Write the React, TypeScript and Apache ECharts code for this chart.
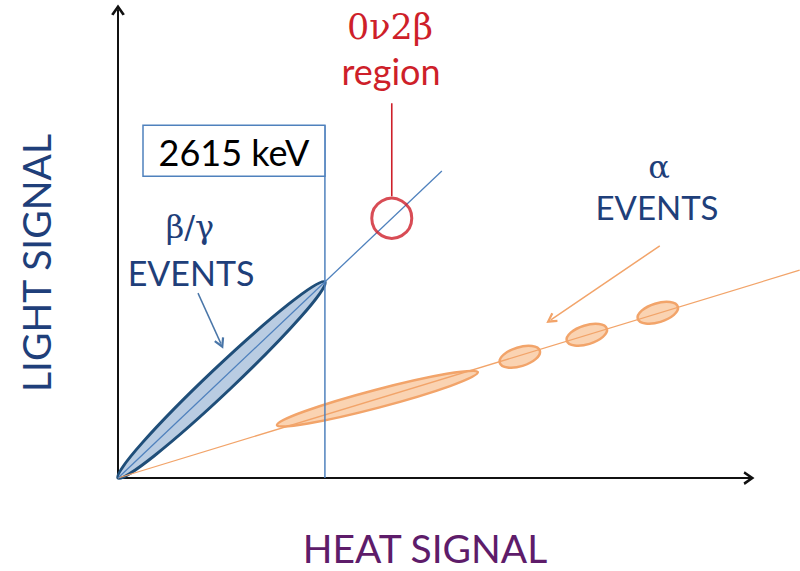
import React, { useEffect, useRef } from "react";
import * as echarts from "echarts";

// ---- data (heat axis in keV, light axis in arbitrary units) ----
const X_MAX = 8000;
const Y_MAX = 100;
const CUTOFF_KEV = 2615;
const betaLine = [[0, 0], [4093, 65.6]];
const alphaLine = [[0, 0, 8615, 44.4]];
const betaBand = [[0, 0, 2615, 41.9]];
const alphaBands = [
  [2009, 11.3, 4548, 22.6],
  [4825, 24.6, 5331, 27.2],
  [5672, 29.3, 6178, 31.9],
  [6569, 34.0, 7075, 36.6],
];
const cutoffLine = [[CUTOFF_KEV, 0], [CUTOFF_KEV, 75.4]];
const cutoffBox = [[316, 64.5, CUTOFF_KEV, 75.4]];
const roiCenter = [[3460, 55.5]];
const roiPointer = [[3460, 60.2], [3460, 80.1]];
const betaArrow = [[1011, 39.5], [1301, 28.7]];
const alphaArrow = [[6847, 49.6], [5470, 33.8]];

const CHEVRON = "path://M0,10 L7,0 L14,10 L11.6,11.2 L7,4.6 L2.4,11.2 Z";
const BLUE = "#4F81BD";
const NAVY = "#1F4E79";
const ORANGE = "#F2A46A";
const RED = "#CE1F2A";
const TEXT_BLUE = "#1F3F7A";
const SANS = "Lato, 'Noto Sans', sans-serif";
const SERIF = "'DejaVu Serif', serif";

function ellipseRender(ry: number, fill: string, stroke: string, lw: number) {
  return (params: any, api: any) => {
    const p1 = api.coord([api.value(0), api.value(1)]);
    const p2 = api.coord([api.value(2), api.value(3)]);
    const dx = p2[0] - p1[0];
    const dy = p2[1] - p1[1];
    return {
      type: "ellipse",
      x: (p1[0] + p2[0]) / 2,
      y: (p1[1] + p2[1]) / 2,
      rotation: -Math.atan2(dy, dx),
      shape: { cx: 0, cy: 0, rx: Math.hypot(dx, dy) / 2, ry },
      style: { fill, stroke, lineWidth: lw },
    };
  };
}

function txt(text: string, x: number, y: number, size: number, color: string, family: string, rotation = 0) {
  return {
    type: "text",
    x,
    y,
    rotation,
    z: 20,
    style: {
      text,
      fill: color,
      fontSize: size,
      fontFamily: family,
      align: "center",
      verticalAlign: "middle",
      textAlign: "center",
      textVerticalAlign: "middle",
    },
  };
}

export default function App() {
  const ref = useRef<HTMLDivElement>(null);
  useEffect(() => {
    if (!ref.current) return;
    const chart = echarts.init(ref.current, null, { renderer: "svg" });
    chart.setOption({
      animation: false,
      backgroundColor: "#ffffff",
      grid: { left: 118, right: 49, top: 10, bottom: 93 },
      xAxis: {
        type: "value",
        min: 0,
        max: X_MAX,
        axisLine: {
          show: true,
          symbol: ["none", CHEVRON],
          symbolSize: [14, 11],
          symbolOffset: [0, -2],
          lineStyle: { color: "#111", width: 2 },
        },
        axisTick: { show: false },
        axisLabel: { show: false },
        splitLine: { show: false },
      },
      yAxis: {
        type: "value",
        min: 0,
        max: Y_MAX,
        axisLine: {
          show: true,
          symbol: ["none", CHEVRON],
          symbolSize: [14, 11],
          symbolOffset: [0, 0],
          lineStyle: { color: "#111", width: 2 },
        },
        axisTick: { show: false },
        axisLabel: { show: false },
        splitLine: { show: false },
      },
      series: [
        {
          type: "custom",
          name: "β/γ events",
          dimensions: ["x1", "y1", "x2", "y2"],
          encode: { x: [0, 2], y: [1, 3] },
          data: betaBand,
          z: 2,
          renderItem: ellipseRender(12.5, "#B9CCE2", NAVY, 3),
        },
        {
          type: "custom",
          name: "α events",
          dimensions: ["x1", "y1", "x2", "y2"],
          encode: { x: [0, 2], y: [1, 3] },
          data: alphaBands,
          z: 2,
          renderItem: (params: any, api: any) =>
            ellipseRender(params.dataIndex === 0 ? 9 : 9.5, "#FAD3B2", ORANGE, 2.5)(params, api),
        },
        {
          type: "line",
          name: "β/γ line",
          data: betaLine,
          symbol: "none",
          z: 3,
          lineStyle: { color: BLUE, width: 1.3 },
        },
        {
          type: "custom",
          name: "α line",
          dimensions: ["x1", "y1", "x2", "y2"],
          data: alphaLine,
          clip: false,
          z: 3,
          renderItem: (params: any, api: any) => {
            const p1 = api.coord([api.value(0), api.value(1)]);
            const p2 = api.coord([api.value(2), api.value(3)]);
            return {
              type: "line",
              shape: { x1: p1[0], y1: p1[1], x2: p2[0], y2: p2[1] },
              style: { stroke: ORANGE, lineWidth: 1.3 },
            };
          },
        },
        {
          type: "line",
          name: "cutoff",
          data: cutoffLine,
          symbol: "none",
          z: 3,
          lineStyle: { color: BLUE, width: 1.5 },
        },
        {
          type: "custom",
          name: "cutoff box",
          dimensions: ["x1", "y1", "x2", "y2"],
          data: cutoffBox,
          z: 4,
          renderItem: (params: any, api: any) => {
            const a = api.coord([api.value(0), api.value(3)]);
            const b = api.coord([api.value(2), api.value(1)]);
            return {
              type: "group",
              children: [
                {
                  type: "rect",
                  shape: { x: a[0], y: a[1], width: b[0] - a[0], height: b[1] - a[1] },
                  style: { fill: "#ffffff", stroke: BLUE, lineWidth: 1.5 },
                },
                {
                  type: "text",
                  style: {
                    text: `${CUTOFF_KEV} keV`,
                    x: (a[0] + b[0]) / 2,
                    y: (a[1] + b[1]) / 2 + 1,
                    align: "center",
                    verticalAlign: "middle",
                    fontSize: 36,
                    fontFamily: SANS,
                    fill: "#000000",
                  },
                },
              ],
            };
          },
        },
        {
          type: "line",
          name: "0ν2β pointer",
          data: roiPointer,
          symbol: "none",
          z: 3,
          lineStyle: { color: RED, width: 1.6 },
        },
        {
          type: "scatter",
          name: "0ν2β region",
          data: roiCenter,
          symbol: "circle",
          symbolSize: 40,
          z: 5,
          itemStyle: { color: "rgba(255,255,255,0)", borderColor: RED, borderWidth: 3 },
        },
        {
          type: "lines",
          name: "arrows β",
          coordinateSystem: "cartesian2d",
          data: [{ coords: betaArrow }],
          symbol: ["none", CHEVRON],
          symbolSize: 11,
          z: 6,
          lineStyle: { color: "#4A76A8", width: 1.5, curveness: 0, opacity: 1 },
        },
        {
          type: "lines",
          name: "arrows α",
          coordinateSystem: "cartesian2d",
          data: [{ coords: alphaArrow }],
          symbol: ["none", CHEVRON],
          symbolSize: 11,
          z: 6,
          lineStyle: { color: ORANGE, width: 1.5, curveness: 0, opacity: 1 },
        },
      ],
      graphic: [
        txt("LIGHT SIGNAL", 36, 263, 39, TEXT_BLUE, SANS, Math.PI / 2),
        txt("HEAT SIGNAL", 425, 548, 39, "#5E1C6A", SANS),
        txt("0ν2β", 390, 27, 35, RED, SERIF),
        txt("region", 391, 71, 36, RED, SANS),
        txt("β/γ", 190, 227, 32, TEXT_BLUE, SERIF),
        txt("EVENTS", 191, 272, 34, TEXT_BLUE, SANS),
        txt("α", 659, 167, 32, TEXT_BLUE, SERIF),
        txt("EVENTS", 657, 207, 33, TEXT_BLUE, SANS),
      ],
    });
    return () => chart.dispose();
  }, []);
  return (
    <div
      ref={ref}
      style={{ position: "fixed", left: 0, top: 0, width: 800, height: 571, background: "#fff" }}
    />
  );
}
